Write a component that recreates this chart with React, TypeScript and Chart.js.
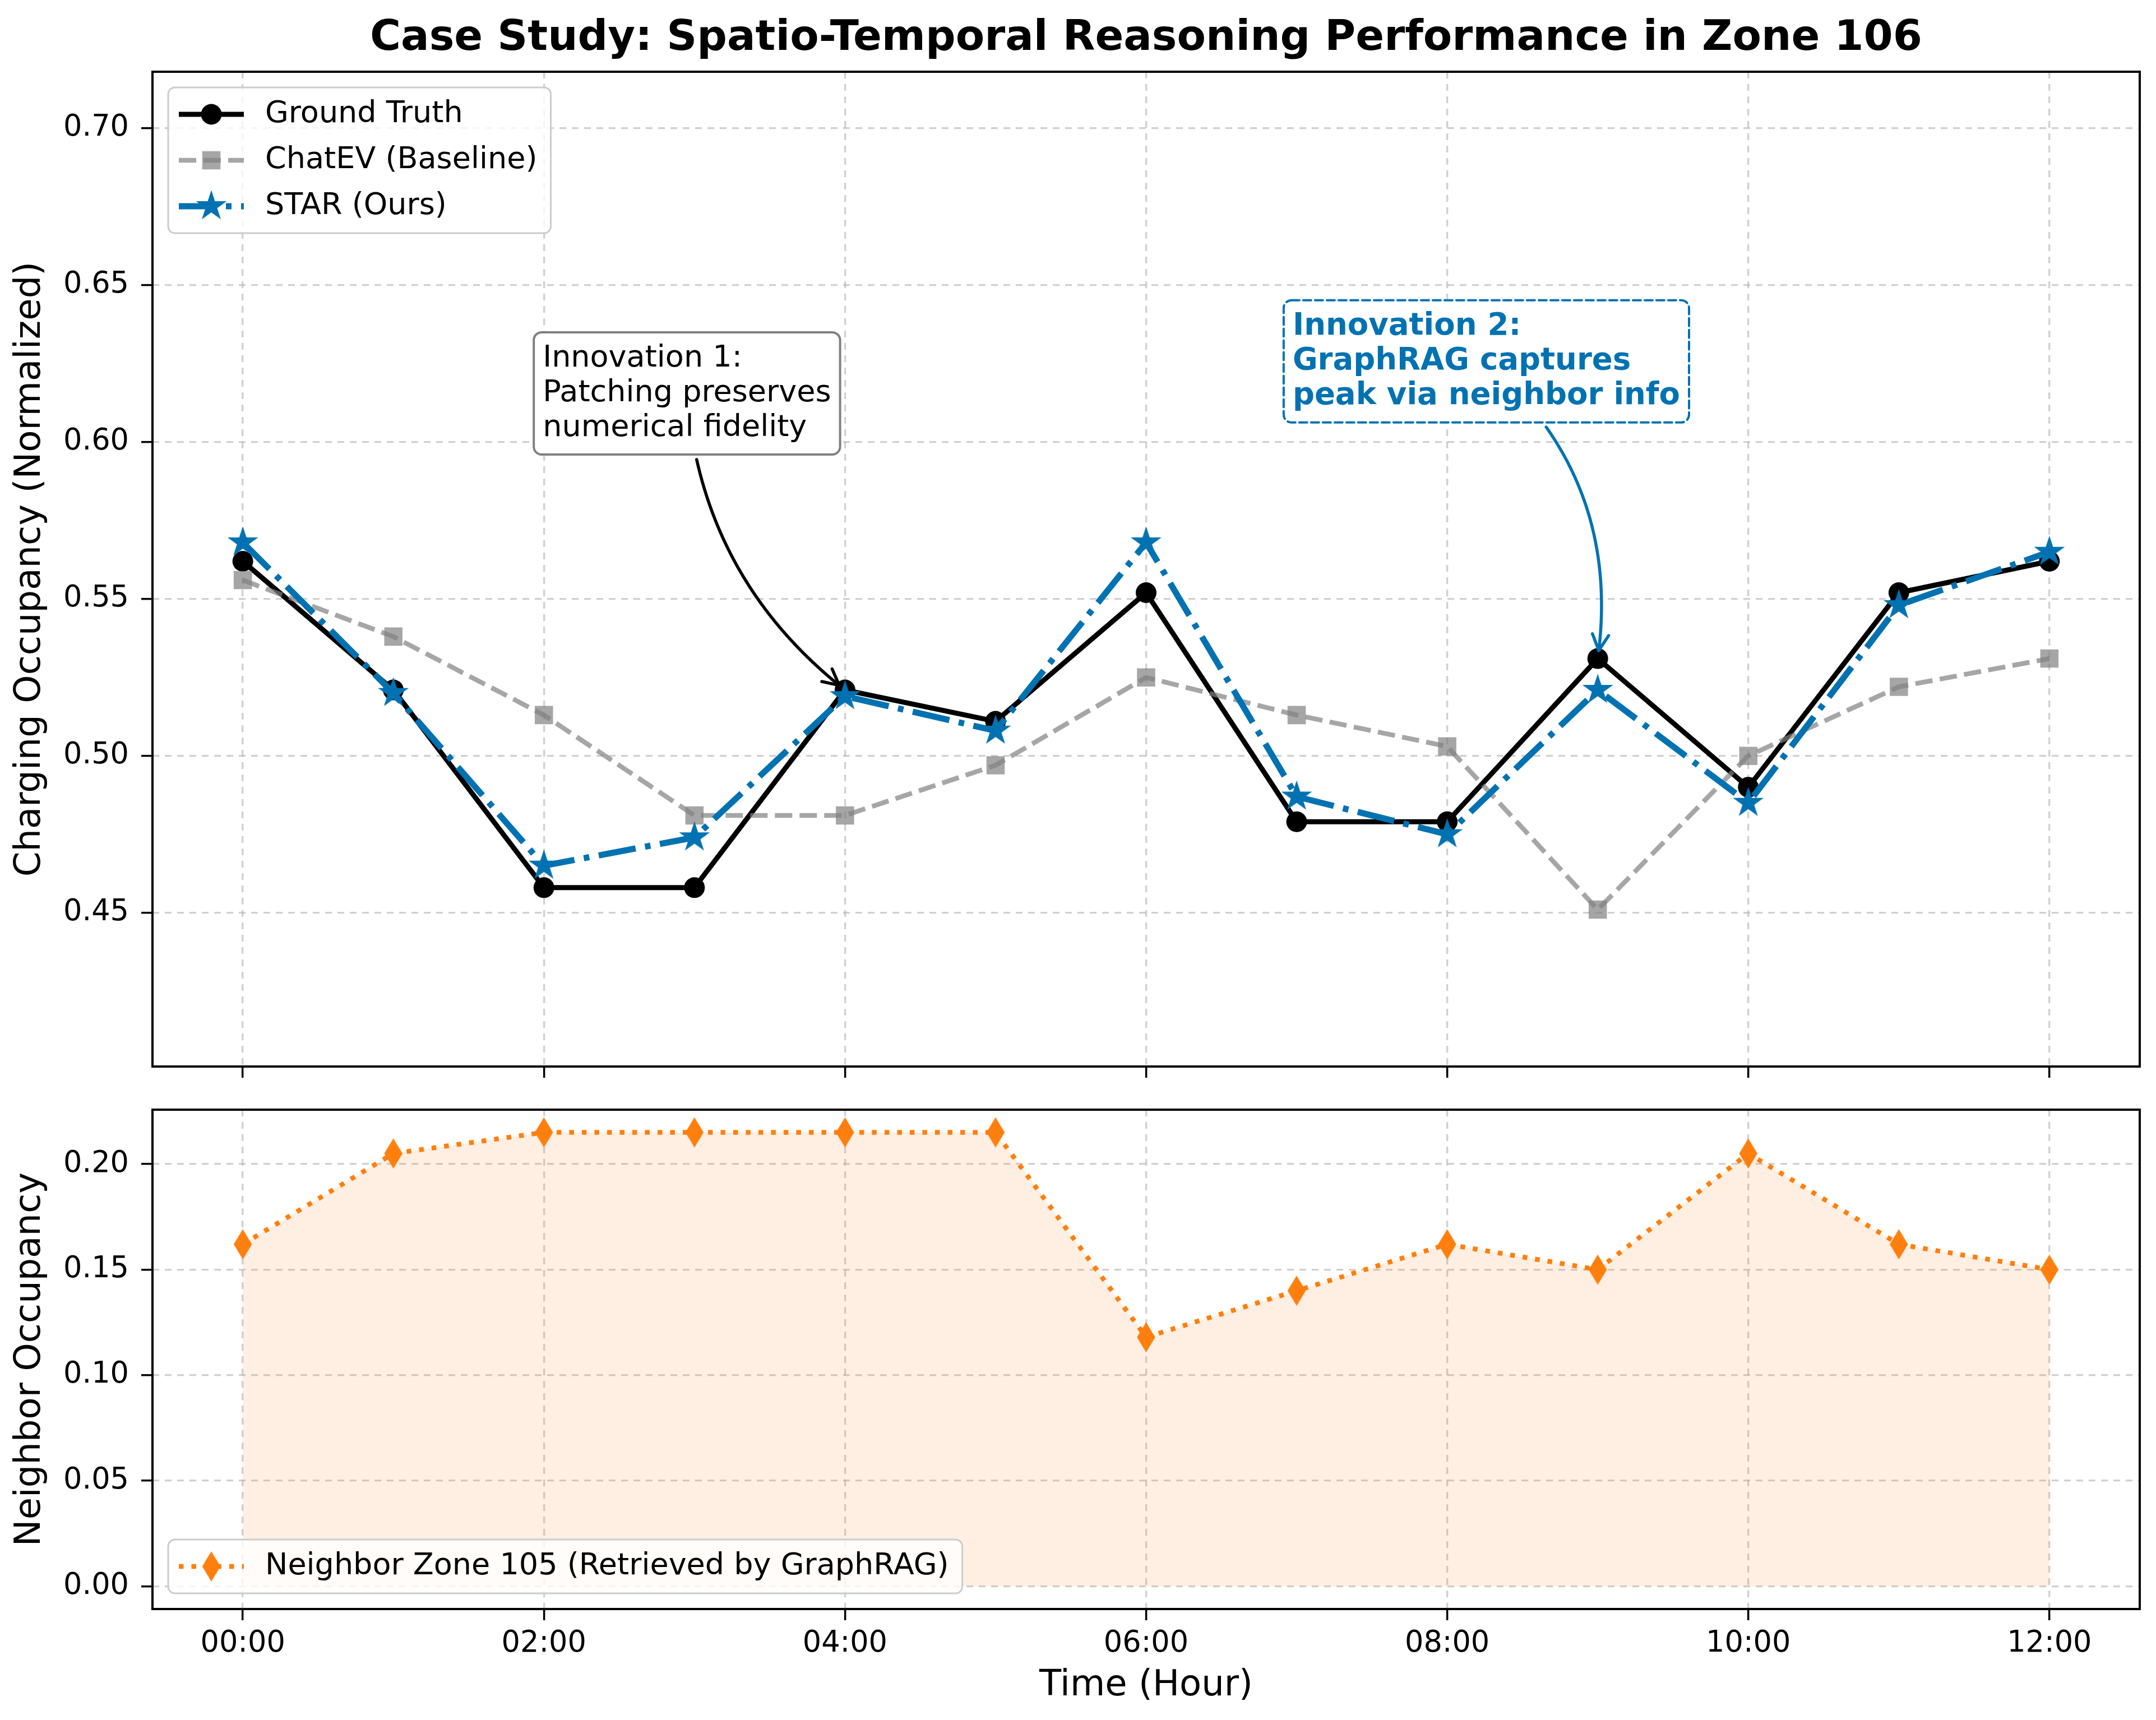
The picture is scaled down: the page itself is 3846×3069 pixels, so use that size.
import { useEffect, useRef } from "react";
import { Chart, registerables } from "chart.js";

Chart.register(...registerables);

// ---- data ----
const HOURS = [0, 1, 2, 3, 4, 5, 6, 7, 8, 9, 10, 11, 12];
const HOUR_TICKS = [0, 2, 4, 6, 8, 10, 12];
const HOUR_LABELS = ["00:00", "02:00", "04:00", "06:00", "08:00", "10:00", "12:00"];

const GROUND_TRUTH = [0.562, 0.521, 0.458, 0.458, 0.521, 0.511, 0.552, 0.479, 0.479, 0.531, 0.49, 0.552, 0.562];
const CHATEV = [0.556, 0.538, 0.513, 0.481, 0.481, 0.497, 0.525, 0.513, 0.503, 0.451, 0.5, 0.522, 0.531];
const STAR = [0.568, 0.52, 0.465, 0.474, 0.519, 0.508, 0.568, 0.487, 0.475, 0.521, 0.485, 0.548, 0.565];
const NEIGHBOR = [0.162, 0.205, 0.215, 0.215, 0.215, 0.215, 0.118, 0.14, 0.162, 0.15, 0.205, 0.162, 0.15];

const TOP_Y_TICKS = [0.45, 0.5, 0.55, 0.6, 0.65, 0.7];
const BOTTOM_Y_TICKS = [0, 0.05, 0.1, 0.15, 0.2];

const TITLE = "Case Study: Spatio-Temporal Reasoning Performance in Zone 106";

// callouts: text, where the box centre sits (hour, value), which hour of ground truth it points to
const NOTES = [
  {
    lines: ["Innovation 1:", "Patching preserves", "numerical fidelity"],
    at: [2.95, 0.6155],
    hour: 4,
    color: "#000000",
    edge: "#808080",
    bold: false,
    size: 54,
    dashed: false,
    rad: 0.22,
  },
  {
    lines: ["Innovation 2:", "GraphRAG captures", "peak via neighbor info"],
    at: [8.26, 0.6257],
    hour: 9,
    color: "#0072B2",
    edge: "#0072B2",
    bold: true,
    size: 54.5,
    dashed: true,
    rad: -0.27,
  },
];

// ---- look ----
const FIG_W = 3846;
const FIG_H = 3069;
const TOP_H = 1955;
const BOTTOM_H = FIG_H - TOP_H;
const FONT = "'DejaVu Sans', 'Liberation Sans', sans-serif";
const BLUE = "#0072B2";
const ORANGE = "#FF7F0E";
const GRAY = "rgba(128,128,128,0.7)";
const GRID = "rgba(176,176,176,0.6)";
const AXIS_W = 272;
const RIGHT_PAD = 29;
const TICK_SIZE = 52.5;
const LABEL_SIZE = 64;
const LEGEND_SIZE = 54;

const allTop = [...GROUND_TRUTH, ...CHATEV, ...STAR];
const TOP_MIN = Math.min(...allTop) - 0.05;
const TOP_MAX = Math.max(...allTop) + 0.15;
const nbSpan = Math.max(...NEIGHBOR);
const BOTTOM_MIN = -0.05 * nbSpan;
const BOTTOM_MAX = nbSpan * 1.05;
const X_MIN = HOURS[0] - 0.05 * (HOURS[HOURS.length - 1] - HOURS[0]);
const X_MAX = HOURS[HOURS.length - 1] + 0.05 * (HOURS[HOURS.length - 1] - HOURS[0]);

const series = (values: number[]) => HOURS.map((h, i) => ({ x: h, y: values[i] }));

function makeStar(color: string, r: number) {
  const c = document.createElement("canvas");
  const size = Math.ceil(r * 2 + 8);
  c.width = size;
  c.height = size;
  const ctx = c.getContext("2d")!;
  ctx.beginPath();
  for (let i = 0; i < 10; i++) {
    const rr = i % 2 === 0 ? r : r * 0.381966;
    const a = -Math.PI / 2 + (i * Math.PI) / 5;
    const px = size / 2 + rr * Math.cos(a);
    const py = size / 2 + rr * Math.sin(a);
    if (i === 0) ctx.moveTo(px, py);
    else ctx.lineTo(px, py);
  }
  ctx.closePath();
  ctx.fillStyle = color;
  ctx.fill();
  ctx.lineWidth = 3;
  ctx.strokeStyle = color;
  ctx.stroke();
  return c;
}

function makeDiamond(color: string, w: number, h: number) {
  const c = document.createElement("canvas");
  c.width = Math.ceil(w + 6);
  c.height = Math.ceil(h + 6);
  const ctx = c.getContext("2d")!;
  const cx = c.width / 2;
  const cy = c.height / 2;
  ctx.beginPath();
  ctx.moveTo(cx, cy - h / 2);
  ctx.lineTo(cx + w / 2, cy);
  ctx.lineTo(cx, cy + h / 2);
  ctx.lineTo(cx - w / 2, cy);
  ctx.closePath();
  ctx.fillStyle = color;
  ctx.fill();
  ctx.lineWidth = 3;
  ctx.strokeStyle = color;
  ctx.stroke();
  return c;
}

function roundRect(ctx: CanvasRenderingContext2D, x: number, y: number, w: number, h: number, r: number) {
  ctx.beginPath();
  ctx.moveTo(x + r, y);
  ctx.lineTo(x + w - r, y);
  ctx.arcTo(x + w, y, x + w, y + r, r);
  ctx.lineTo(x + w, y + h - r);
  ctx.arcTo(x + w, y + h, x + w - r, y + h, r);
  ctx.lineTo(x + r, y + h);
  ctx.arcTo(x, y + h, x, y + h - r, r);
  ctx.lineTo(x, y + r);
  ctx.arcTo(x, y, x + r, y, r);
  ctx.closePath();
}

function drawMarker(ctx: CanvasRenderingContext2D, ds: any, x: number, y: number) {
  const style = ds.pointStyle;
  if (style instanceof HTMLCanvasElement) {
    ctx.drawImage(style, x - style.width / 2, y - style.height / 2);
  } else if (style === "rect") {
    const s = ds.pointRadius * Math.SQRT1_2;
    ctx.fillStyle = ds.pointBackgroundColor;
    ctx.fillRect(x - s, y - s, 2 * s, 2 * s);
  } else {
    ctx.fillStyle = ds.pointBackgroundColor;
    ctx.beginPath();
    ctx.arc(x, y, ds.pointRadius, 0, Math.PI * 2);
    ctx.fill();
  }
}

// axes frame on all four sides, like matplotlib spines
const framePlugin = {
  id: "frame",
  afterDatasetsDraw(chart: any) {
    const { ctx, chartArea: a } = chart;
    ctx.save();
    ctx.strokeStyle = "#000";
    ctx.lineWidth = 4;
    ctx.strokeRect(a.left, a.top, a.right - a.left, a.bottom - a.top);
    ctx.restore();
  },
};

// legend box with line + marker handles
const legendPlugin = {
  id: "mplLegend",
  afterDraw(chart: any, _args: any, opts: any) {
    const { ctx, chartArea } = chart;
    const items = chart.data.datasets;
    const rowH = 82;
    const padV = 48;
    ctx.save();
    ctx.font = `${LEGEND_SIZE}px ${FONT}`;
    const tw = Math.max(...items.map((d: any) => ctx.measureText(d.label).width));
    const w = 173 + tw + 24;
    const h = padV * 2 + rowH * (items.length - 1);
    const x = chartArea.left + 28;
    const y = opts.corner === "bottom" ? chartArea.bottom - 28 - h : chartArea.top + 28;
    roundRect(ctx, x, y, w, h, 12);
    ctx.fillStyle = "rgba(255,255,255,0.8)";
    ctx.fill();
    ctx.strokeStyle = "#cccccc";
    ctx.lineWidth = 3;
    ctx.stroke();
    items.forEach((ds: any, i: number) => {
      const cy = y + padV + rowH * i;
      ctx.save();
      ctx.strokeStyle = ds.borderColor;
      ctx.lineWidth = ds.borderWidth;
      ctx.setLineDash(ds.borderDash || []);
      ctx.beginPath();
      ctx.moveTo(x + 19, cy);
      ctx.lineTo(x + 135, cy);
      ctx.stroke();
      ctx.restore();
      drawMarker(ctx, ds, x + 77, cy);
      ctx.fillStyle = "#000";
      ctx.textBaseline = "middle";
      ctx.textAlign = "left";
      ctx.fillText(ds.label, x + 173, cy);
    });
    ctx.restore();
  },
};

// callout boxes with curved arrows (matplotlib arc3 style)
const notesPlugin = {
  id: "notes",
  afterDatasetsDraw(chart: any) {
    const { ctx, scales } = chart;
    const sx = scales.x;
    const sy = scales.y;
    const pad = 16;
    const lineH = 62;
    NOTES.forEach((note) => {
      ctx.save();
      ctx.font = `${note.bold ? "bold " : ""}${note.size}px ${FONT}`;
      const tw = Math.max(...note.lines.map((l) => ctx.measureText(l).width));
      const bw = tw + pad * 2;
      const bh = note.lines.length * lineH + pad * 2;
      const cx = sx.getPixelForValue(note.at[0]);
      const cy = sy.getPixelForValue(note.at[1]);
      const bx = cx - bw / 2;
      const by = cy - bh / 2;
      const tx = sx.getPixelForValue(HOURS[note.hour]);
      const ty = sy.getPixelForValue(GROUND_TRUTH[note.hour]);

      // arrow path
      const mx = (cx + tx) / 2;
      const my = (cy + ty) / 2;
      const dx = tx - cx;
      const dy = ty - cy;
      const kx = mx - note.rad * dy;
      const ky = my + note.rad * dx;
      const pts: number[][] = [];
      for (let i = 0; i <= 400; i++) {
        const t = i / 400;
        const px = (1 - t) * (1 - t) * cx + 2 * t * (1 - t) * kx + t * t * tx;
        const py = (1 - t) * (1 - t) * cy + 2 * t * (1 - t) * ky + t * t * ty;
        const inBox = px > bx - 8 && px < bx + bw + 8 && py > by - 8 && py < by + bh + 8;
        const nearEnd = Math.hypot(px - tx, py - ty) < 13;
        if (!inBox && !nearEnd) pts.push([px, py]);
      }
      ctx.strokeStyle = note.color;
      ctx.lineWidth = 5.5;
      ctx.lineCap = "round";
      ctx.lineJoin = "round";
      ctx.beginPath();
      pts.forEach((p, i) => (i === 0 ? ctx.moveTo(p[0], p[1]) : ctx.lineTo(p[0], p[1])));
      ctx.stroke();
      const end = pts[pts.length - 1];
      const prev = pts[pts.length - 8];
      const ang = Math.atan2(end[1] - prev[1], end[0] - prev[0]);
      const hl = 32;
      const ha = (27 * Math.PI) / 180;
      ctx.beginPath();
      ctx.moveTo(end[0] - hl * Math.cos(ang - ha), end[1] - hl * Math.sin(ang - ha));
      ctx.lineTo(end[0], end[1]);
      ctx.lineTo(end[0] - hl * Math.cos(ang + ha), end[1] - hl * Math.sin(ang + ha));
      ctx.stroke();

      // box
      roundRect(ctx, bx, by, bw, bh, 14);
      ctx.fillStyle = "#ffffff";
      ctx.fill();
      ctx.strokeStyle = note.edge;
      ctx.lineWidth = 4;
      ctx.setLineDash(note.dashed ? [14, 7] : []);
      ctx.stroke();
      ctx.setLineDash([]);

      // text
      ctx.fillStyle = note.color;
      ctx.textAlign = "left";
      ctx.textBaseline = "middle";
      note.lines.forEach((l, i) => ctx.fillText(l, bx + pad, by + pad + lineH * (i + 0.5)));
      ctx.restore();
    });
  },
};

const gridOpts = {
  color: GRID,
  lineWidth: 3.3,
  tickColor: "#000",
  tickLength: 20,
  tickWidth: 3.5,
};

const noPad = (s: any) => {
  s.paddingTop = 0;
  s.paddingBottom = 0;
  s.paddingLeft = 0;
  s.paddingRight = 0;
};

export default function App() {
  const topRef = useRef<HTMLCanvasElement | null>(null);
  const bottomRef = useRef<HTMLCanvasElement | null>(null);

  useEffect(() => {
    const topCanvas = topRef.current;
    const bottomCanvas = bottomRef.current;
    if (!topCanvas || !bottomCanvas) return;

    const starImg = makeStar(BLUE, 24);
    const diamondImg = makeDiamond(ORANGE, 29, 48);

    const xScale = (showLabels: boolean, height: number) => ({
      type: "linear",
      min: X_MIN,
      max: X_MAX,
      bounds: "data",
      afterBuildTicks: (s: any) => {
        s.ticks = HOUR_TICKS.map((v) => ({ value: v }));
      },
      afterFit: (s: any) => {
        s.height = height;
        noPad(s);
      },
      ticks: {
        display: showLabels,
        color: "#000",
        font: { family: FONT, size: TICK_SIZE },
        padding: 11,
        maxRotation: 0,
        autoSkip: false,
        callback: (_v: any, i: number) => HOUR_LABELS[i],
      },
      grid: gridOpts,
      border: { display: false, dash: [12, 10] },
      title: showLabels
        ? {
            display: true,
            text: "Time (Hour)",
            color: "#000",
            font: { family: FONT, size: LABEL_SIZE },
            padding: { top: 0, bottom: 22 },
          }
        : { display: false },
    });

    const yScale = (min: number, max: number, ticks: number[], title: string) => ({
      type: "linear",
      min,
      max,
      bounds: "data",
      afterBuildTicks: (s: any) => {
        s.ticks = ticks.map((v) => ({ value: v }));
      },
      afterFit: (s: any) => {
        s.width = AXIS_W;
        noPad(s);
      },
      ticks: {
        color: "#000",
        font: { family: FONT, size: TICK_SIZE },
        padding: 22,
        callback: (v: any) => Number(v).toFixed(2),
      },
      grid: gridOpts,
      border: { display: false, dash: [12, 10] },
      title: {
        display: true,
        text: title,
        color: "#000",
        font: { family: FONT, size: LABEL_SIZE },
        padding: { top: 16, bottom: 0 },
      },
    });

    const topChart = new Chart(topCanvas, {
      type: "line",
      data: {
        datasets: [
          {
            label: "Ground Truth",
            data: series(GROUND_TRUTH),
            borderColor: "#000000",
            backgroundColor: "#000000",
            borderWidth: 9,
            borderJoinStyle: "round",
            pointStyle: "circle",
            pointRadius: 18.5,
            pointHoverRadius: 18.5,
            pointBackgroundColor: "#000000",
            pointBorderWidth: 0,
            order: 3,
          },
          {
            label: "ChatEV (Baseline)",
            data: series(CHATEV),
            borderColor: GRAY,
            backgroundColor: GRAY,
            borderWidth: 8.5,
            borderDash: [31, 13],
            borderJoinStyle: "round",
            pointStyle: "rect",
            pointRadius: 23,
            pointHoverRadius: 23,
            pointBackgroundColor: GRAY,
            pointBorderWidth: 0,
            order: 2,
          },
          {
            label: "STAR (Ours)",
            data: series(STAR),
            borderColor: BLUE,
            backgroundColor: BLUE,
            borderWidth: 11,
            borderDash: [67, 17, 10, 17],
            borderJoinStyle: "round",
            pointStyle: starImg,
            pointRadius: 24,
            pointHoverRadius: 24,
            pointBackgroundColor: BLUE,
            pointBorderWidth: 0,
            order: 1,
          },
        ],
      },
      options: {
        animation: false,
        responsive: false,
        events: [],
        layout: { padding: { left: 0, right: RIGHT_PAD, top: 0, bottom: 0 } },
        scales: {
          x: xScale(false, TOP_H - 1903),
          y: yScale(TOP_MIN, TOP_MAX, TOP_Y_TICKS, "Charging Occupancy (Normalized)"),
        },
        plugins: {
          legend: { display: false },
          tooltip: { enabled: false },
          title: {
            display: true,
            text: TITLE,
            color: "#000",
            fullSize: false,
            font: { family: FONT, size: 75, weight: "bold" },
            padding: { top: 25, bottom: 13 },
          },
          mplLegend: { corner: "top" },
        },
      } as any,
      plugins: [framePlugin, notesPlugin, legendPlugin],
    } as any);

    const bottomChart = new Chart(bottomCanvas, {
      type: "line",
      data: {
        datasets: [
          {
            label: "Neighbor Zone 105 (Retrieved by GraphRAG)",
            data: series(NEIGHBOR),
            borderColor: ORANGE,
            backgroundColor: "rgba(255,127,14,0.12)",
            fill: "origin",
            borderWidth: 8.5,
            borderDash: [8.5, 14],
            borderJoinStyle: "round",
            pointStyle: diamondImg,
            pointRadius: 24,
            pointHoverRadius: 24,
            pointBackgroundColor: ORANGE,
            pointBorderWidth: 0,
          },
        ],
      },
      options: {
        animation: false,
        responsive: false,
        events: [],
        layout: { padding: { left: 0, right: RIGHT_PAD, top: 1980 - TOP_H, bottom: 0 } },
        scales: {
          x: xScale(true, BOTTOM_H - (2871 - TOP_H)),
          y: yScale(BOTTOM_MIN, BOTTOM_MAX, BOTTOM_Y_TICKS, "Neighbor Occupancy"),
        },
        plugins: {
          legend: { display: false },
          tooltip: { enabled: false },
          mplLegend: { corner: "bottom" },
        },
      } as any,
      plugins: [framePlugin, legendPlugin],
    } as any);

    return () => {
      topChart.destroy();
      bottomChart.destroy();
    };
  }, []);

  return (
    <div style={{ position: "absolute", left: 0, top: 0, width: FIG_W, height: FIG_H, background: "#ffffff" }}>
      <canvas
        ref={topRef}
        width={FIG_W}
        height={TOP_H}
        style={{ position: "absolute", left: 0, top: 0, width: FIG_W, height: TOP_H }}
      />
      <canvas
        ref={bottomRef}
        width={FIG_W}
        height={BOTTOM_H}
        style={{ position: "absolute", left: 0, top: TOP_H, width: FIG_W, height: BOTTOM_H }}
      />
    </div>
  );
}
